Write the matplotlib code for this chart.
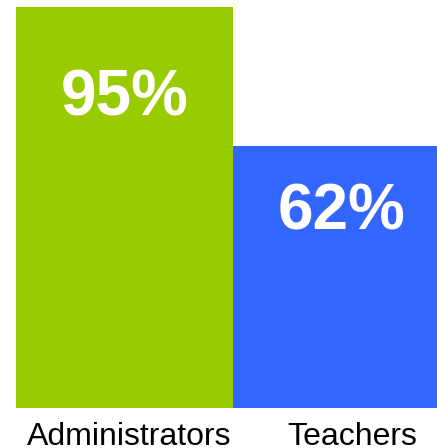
import matplotlib
matplotlib.use("Agg")
import matplotlib.pyplot as plt
import matplotlib.transforms as mtransforms
from matplotlib import font_manager

groups = ["Administrators", "Teachers"]
values = [95, 62]
colors = ["#99cc00", "#3366ff"]
# pixel offset of the value label below the bar top
label_drop = [91, 66]
# small horizontal nudge of the category labels, in pixels
label_nudge = [5, 11]

# pick the bold Liberation Sans file explicitly
bold_file = None
for f in font_manager.fontManager.ttflist:
    if f.name == "Liberation Sans" and f.weight in (700, "bold") and f.style == "normal":
        bold_file = f.fname
        break
if bold_file:
    bold_fp = font_manager.FontProperties(fname=bold_file, size=46)
else:
    bold_fp = font_manager.FontProperties(family="Liberation Sans", weight="bold", size=46)

fig = plt.figure(figsize=(4.37, 4.48), dpi=100)
# axes placed so bar 2 runs off the right edge, like the original
ax = fig.add_axes([16 / 437, 40 / 448, 421 / 437, 401 / 448])

x = list(range(len(groups)))
ax.bar(x, values, width=1.0, align="edge", color=colors, linewidth=0)
ax.set_xlim(0, 421 / 217)
ax.set_ylim(0, 95)

for xi, v, drop in zip(x, values, label_drop):
    ax.annotate(f"{v}%", xy=(xi + 0.5, v), xytext=(0, -drop * 0.72),
                textcoords="offset points", ha="center", va="center",
                color="white", fontproperties=bold_fp)

ax.set_xticks([xi + 0.5 for xi in x])
ax.set_xticklabels(groups, family="Liberation Sans", fontsize=23)
ax.tick_params(axis="x", length=0, pad=10)
for lab, nud in zip(ax.get_xticklabels(), label_nudge):
    shift = mtransforms.ScaledTranslation(nud / 100, 0, fig.dpi_scale_trans)
    lab.set_transform(lab.get_transform() + shift)
ax.set_yticks([])
for s in ax.spines.values():
    s.set_visible(False)

fig.savefig("out.png", dpi=100)
